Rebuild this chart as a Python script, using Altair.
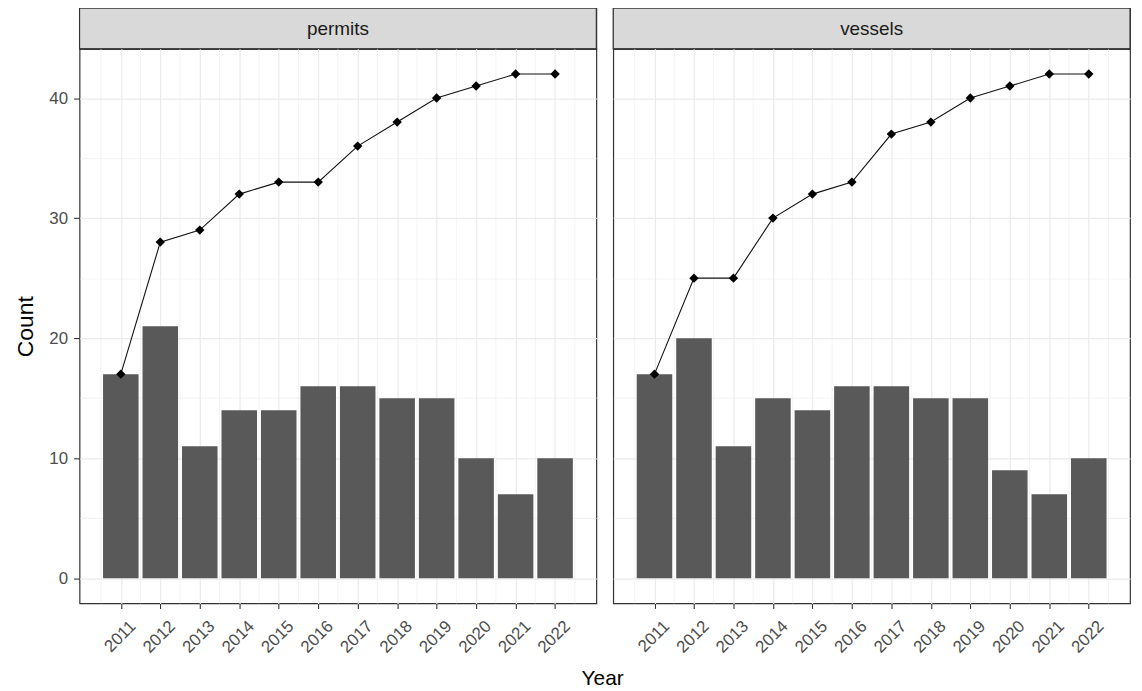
import altair as alt
import pandas as pd

years = [2011, 2012, 2013, 2014, 2015, 2016, 2017, 2018, 2019, 2020, 2021, 2022]
panel_names = ["permits", "vessels"]
permits_count = [17, 21, 11, 14, 14, 16, 16, 15, 15, 10, 7, 10]
permits_cumulative = [17, 28, 29, 32, 33, 33, 36, 38, 40, 41, 42, 42]
vessels_count = [17, 20, 11, 15, 14, 16, 16, 15, 15, 9, 7, 10]
vessels_cumulative = [17, 25, 25, 30, 32, 33, 37, 38, 40, 41, 42, 42]

y_grid = [0, 5, 10, 15, 20, 25, 30, 35, 40]

FONT = "Liberation Sans"
PW, PH, SH = 520, 558, 41

xscale = alt.Scale(domain=[2009.955, 2023.045], nice=False, zero=False)
yscale = alt.Scale(domain=[-2.1, 44.1], nice=False, zero=False)

major_y = "datum.value % 10 === 0"


def x_axis():
    return alt.Axis(
        values=years, format="d",
        labelAngle=-45, labelAlign="right", labelBaseline="middle",
        labelPadding=15, labelOffset=12, labelOverlap=False, labelFlush=False,
        labelFont=FONT, labelFontSize=17, labelColor="#4D4D4D",
        tickColor="#333333", tickSize=5, tickWidth=1.1,
        grid=True, gridColor="#EBEBEB", gridWidth=1.2,
        domain=False, title=None,
    )


def y_axis(show):
    if show:
        return alt.Axis(
            values=y_grid,
            labelExpr=f"{major_y} ? datum.label : ''",
            labelFont=FONT, labelFontSize=17, labelColor="#4D4D4D", labelPadding=6,
            tickColor="#333333", tickSize=6, tickWidth=1.1,
            tickOpacity={"condition": {"test": major_y, "value": 1}, "value": 0},
            grid=True, gridColor="#EBEBEB",
            gridWidth={"condition": {"test": major_y, "value": 1.2}, "value": 0.6},
            domain=False, title="Count", titleFont=FONT, titleFontSize=23,
            titleFontWeight="normal", titleColor="#000000", titlePadding=11,
        )
    return alt.Axis(
        values=y_grid, labels=False, ticks=False, domain=False, title=None,
        minExtent=0, maxExtent=0,
        grid=True, gridColor="#EBEBEB",
        gridWidth={"condition": {"test": major_y, "value": 1.2}, "value": 0.6},
    )


def panel(name, counts, cum, show_y):
    df = pd.DataFrame({"year": years, "count": counts, "cum": cum})
    base = alt.Chart(df)
    minor_lo = base.transform_calculate(m="datum.year - 0.5").mark_rule(
        color="#EBEBEB", strokeWidth=0.6
    ).encode(x=alt.X("m:Q", scale=xscale), y=alt.value(0), y2=alt.value(PH))
    minor_hi = base.transform_filter(f"datum.year == {years[-1]}").transform_calculate(
        m="datum.year + 0.5"
    ).mark_rule(color="#EBEBEB", strokeWidth=0.6).encode(
        x=alt.X("m:Q", scale=xscale), y=alt.value(0), y2=alt.value(PH)
    )
    bars = base.transform_calculate(
        x0="datum.year - 0.45", x1="datum.year + 0.45"
    ).mark_bar(color="#595959").encode(
        x=alt.X("x0:Q", scale=xscale, axis=x_axis()),
        x2="x1:Q",
        y=alt.Y("count:Q", scale=yscale, axis=y_axis(show_y)),
        y2=alt.datum(0),
    )
    line = base.mark_line(color="#111111", strokeWidth=1.1).encode(
        x=alt.X("year:Q", scale=xscale),
        y=alt.Y("cum:Q", scale=yscale),
    )
    pts = base.mark_point(shape="diamond", filled=True, size=90, color="#000000", opacity=1).encode(
        x=alt.X("year:Q", scale=xscale),
        y=alt.Y("cum:Q", scale=yscale),
    )
    main = alt.layer(minor_lo, minor_hi, bars, line, pts).properties(width=PW, height=PH)

    sdf = pd.DataFrame({"panel": [name]})
    sbase = alt.Chart(sdf)
    srect = sbase.mark_rect(fill="#D9D9D9", stroke="#333333", strokeWidth=1.2).encode(
        x=alt.value(0), x2=alt.value(PW), y=alt.value(0), y2=alt.value(SH)
    )
    stext = sbase.mark_text(font=FONT, fontSize=19, color="#1A1A1A").encode(
        text="panel:N", x=alt.value(PW / 2), y=alt.value(SH / 2 + 1)
    )
    strip = alt.layer(srect, stext).properties(width=PW, height=SH)
    return alt.vconcat(strip, main, spacing=0, bounds="flush")


left = panel(panel_names[0], permits_count, permits_cumulative, True)
right = panel(panel_names[1], vessels_count, vessels_cumulative, False)

chart = alt.hconcat(left, right, spacing=13).properties(
    title=alt.TitleParams(
        "Year", orient="bottom", anchor="middle", font=FONT, fontSize=21,
        fontWeight="normal", color="#000000", offset=12, dx=30,
    ),
    padding={"left": 6, "right": 2, "top": -4, "bottom": 0},
    background="#FFFFFF",
).configure_view(stroke="#333333", strokeWidth=1.2)

chart.save("out.html", embed_options={"renderer": "svg", "actions": False})
